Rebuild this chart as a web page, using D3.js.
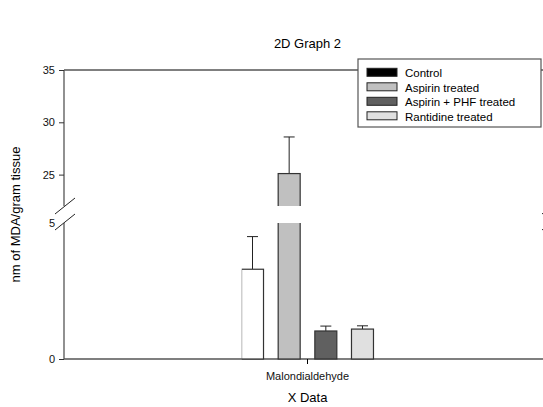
<!doctype html>
<html>
<head>
<script src="https://d3js.org/d3.v7.min.js"></script>
<style>
body { margin: 0; background: #fff; }
text { font-family: "Liberation Sans", Arial, sans-serif; }
</style>
</head>
<body>
<svg width="543" height="407"></svg>
<script>
// data
var categories = ["Malondialdehyde"];
var seriesNames = ["Control", "Aspirin treated", "Aspirin + PHF treated", "Rantidine treated"];
var seriesValues = [3.3, 25.1, 1.03, 1.1];
var seriesErrors = [1.2, 3.5, 0.18, 0.12];
var barColors = ["#ffffff", "#c0c0c0", "#606060", "#e0e0e0"];
var legendColors = ["#000000", "#c0c0c0", "#606060", "#e0e0e0"];
var lowTicks = [0, 5];
var highTicks = [25, 30, 35];

var svg = d3.select("svg");
var plotLeft = 64, plotRight = 551, plotTop = 70, plotBottom = 359;
var breakTop = 206, breakBottom = 223;

// broken y axis: two linear pieces
var yLow = d3.scaleLinear().domain([0, 5]).range([plotBottom, breakBottom]);
var yHigh = d3.scaleLinear().domain([22, 35]).range([breakTop, plotTop]);
function y(v) { return v <= 5 ? yLow(v) : yHigh(v); }

var x0 = d3.scaleBand().domain(categories).range([plotLeft, plotRight]).paddingInner(0.5736).paddingOuter(0.5736);
var x1 = d3.scaleBand().domain(seriesNames).range([0, x0.bandwidth()]).paddingInner(0.4).paddingOuter(0);

// title
svg.append("text").attr("x", (plotLeft + plotRight) / 2).attr("y", 48)
  .attr("text-anchor", "middle").style("font-size", "13px").text("2D Graph 2");

// clip away the break gap
var clip = svg.append("defs").append("clipPath").attr("id", "gapclip");
clip.append("rect").attr("x", 0).attr("y", 0).attr("width", 600).attr("height", breakTop);
clip.append("rect").attr("x", 0).attr("y", breakBottom).attr("width", 600).attr("height", 200);

// frame lines
svg.append("line").attr("x1", plotLeft).attr("x2", plotRight).attr("y1", plotTop).attr("y2", plotTop)
  .attr("stroke", "#000").attr("stroke-width", 1);
svg.append("line").attr("x1", plotLeft).attr("x2", plotRight).attr("y1", plotBottom).attr("y2", plotBottom)
  .attr("stroke", "#000").attr("stroke-width", 1.2);
[plotLeft, plotRight].forEach(function (ax) {
  svg.append("line").attr("x1", ax).attr("x2", ax).attr("y1", plotTop).attr("y2", breakTop)
    .attr("stroke", "#555").attr("stroke-width", 1.3);
  svg.append("line").attr("x1", ax).attr("x2", ax).attr("y1", breakBottom).attr("y2", plotBottom)
    .attr("stroke", "#555").attr("stroke-width", 1.3);
  // break marks
  [breakTop, breakBottom - 1].forEach(function (by) {
    svg.append("line").attr("x1", ax - 9).attr("x2", ax + 11).attr("y1", by + 8).attr("y2", by - 8)
      .attr("stroke", "#222").attr("stroke-width", 1);
  });
});

// y axes
var axHigh = svg.append("g").attr("transform", "translate(" + plotLeft + ",0)")
  .call(d3.axisLeft(yHigh).tickValues(highTicks).tickFormat(d3.format("d")).tickSize(5).tickPadding(4));
var axLow = svg.append("g").attr("transform", "translate(" + plotLeft + ",0)")
  .call(d3.axisLeft(yLow).tickValues(lowTicks).tickFormat(d3.format("d")).tickSize(5).tickPadding(4));
[axHigh, axLow].forEach(function (a) {
  a.select(".domain").remove();
  a.selectAll("text").style("font-size", "11px").attr("fill", "#111")
    .style("font-family", "'Liberation Sans', Arial, sans-serif");
  a.selectAll("line").attr("stroke", "#333");
});
axLow.selectAll(".tick").filter(function (d) { return d === 5; }).select("line").remove();

// x axis
var axX = svg.append("g").attr("transform", "translate(0," + plotBottom + ")")
  .call(d3.axisBottom(x0).tickSize(5).tickPadding(8));
axX.select(".domain").remove();
axX.selectAll("text").style("font-size", "11px").attr("fill", "#111")
  .style("font-family", "'Liberation Sans', Arial, sans-serif");

svg.append("text").attr("x", (plotLeft + plotRight) / 2).attr("y", 402)
  .attr("text-anchor", "middle").style("font-size", "13px").text("X Data");
svg.append("text").attr("transform", "translate(20," + ((plotTop + plotBottom) / 2) + ") rotate(-90)")
  .attr("text-anchor", "middle").style("font-size", "13px").text("nm of MDA/gram tissue");

// bars
var data = seriesNames.map(function (s, i) {
  return { name: s, value: seriesValues[i], err: seriesErrors[i], color: barColors[i] };
});
var g = svg.append("g").attr("transform", "translate(" + x0(categories[0]) + ",0)");

// error bars (upper only)
g.selectAll(".err").data(data).enter().append("line")
  .attr("x1", function (d) { return x1(d.name) + x1.bandwidth() / 2; })
  .attr("x2", function (d) { return x1(d.name) + x1.bandwidth() / 2; })
  .attr("y1", function (d) { return y(d.value); })
  .attr("y2", function (d) { return y(d.value + d.err); })
  .attr("stroke", "#222").attr("stroke-width", 1);
g.selectAll(".cap").data(data).enter().append("line")
  .attr("x1", function (d) { return x1(d.name) + x1.bandwidth() / 2 - 5.5; })
  .attr("x2", function (d) { return x1(d.name) + x1.bandwidth() / 2 + 5.5; })
  .attr("y1", function (d) { return y(d.value + d.err); })
  .attr("y2", function (d) { return y(d.value + d.err); })
  .attr("stroke", "#222").attr("stroke-width", 1);

g.append("g").attr("clip-path", "url(#gapclip)")
  .selectAll("rect").data(data).enter().append("rect")
  .attr("x", function (d) { return x1(d.name); })
  .attr("width", x1.bandwidth())
  .attr("y", function (d) { return y(d.value); })
  .attr("height", function (d) { return plotBottom - y(d.value); })
  .attr("fill", function (d) { return d.color; })
  .attr("stroke", "#333").attr("stroke-width", 1.2);

// legend
var lg = svg.append("g").attr("transform", "translate(358,59)");
lg.append("rect").attr("x", 0).attr("y", 0).attr("width", 183).attr("height", 68)
  .attr("fill", "#fff").attr("stroke", "#555").attr("stroke-width", 1.2);
var rows = lg.selectAll(".row").data(seriesNames).enter().append("g")
  .attr("transform", function (d, i) { return "translate(0," + (14.3 + i * 14.5) + ")"; });
rows.append("rect").attr("x", 9).attr("y", -5).attr("width", 30).attr("height", 8)
  .attr("fill", function (d, i) { return legendColors[i]; })
  .attr("stroke", "#222").attr("stroke-width", 1);
rows.append("text").attr("x", 47).attr("y", 4).style("font-size", "11.5px").text(function (d) { return d; });
</script>
</body>
</html>
